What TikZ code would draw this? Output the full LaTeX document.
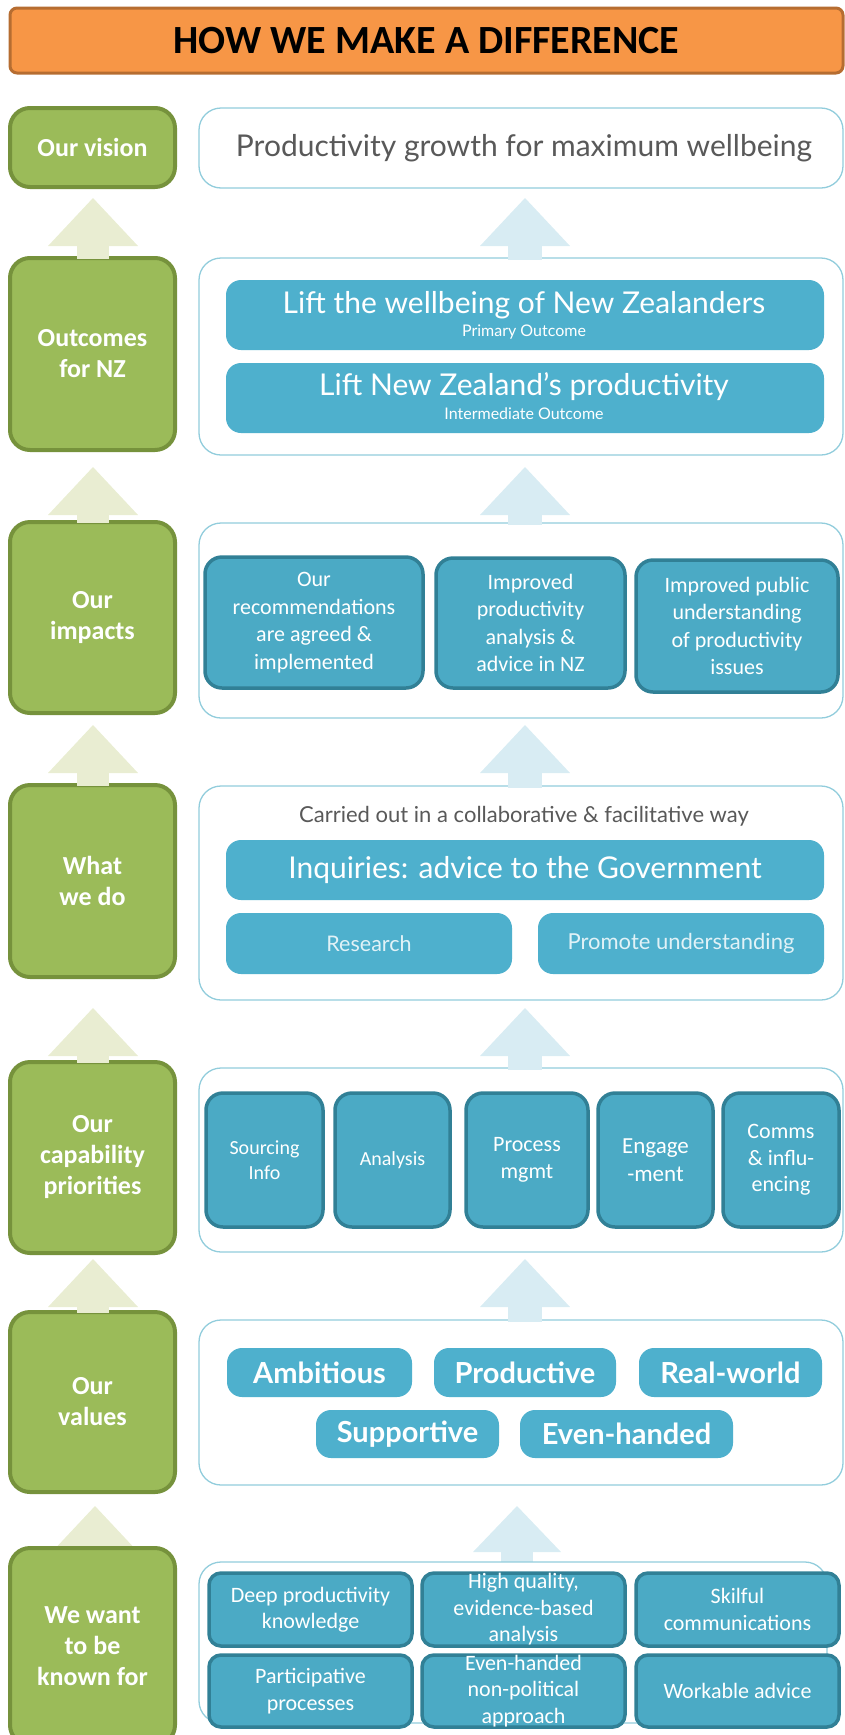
\documentclass[tikz,border=0pt]{standalone}
\usepackage{fontspec}
\setmainfont{Carlito}
\newfontfamily\av{Lato}
\usetikzlibrary{calc}
\definecolor{titleF}{RGB}{247,150,70}
\definecolor{titleB}{RGB}{182,109,49}
\definecolor{gF}{RGB}{155,187,89}
\definecolor{gB}{RGB}{118,146,60}
\definecolor{pB}{RGB}{146,205,220}
\definecolor{bF}{RGB}{78,176,205}
\definecolor{bF2}{RGB}{75,170,197}
\definecolor{bB}{RGB}{49,128,150}
\definecolor{gA}{RGB}{233,237,210}
\definecolor{bA}{RGB}{216,236,243}
\definecolor{txtG}{RGB}{89,89,89}
\definecolor{paleT}{RGB}{225,242,247}
\newcommand\rbox[7]{%
  \pgfmathsetmacro\rbcx{(#3+#5)/2}%
  \pgfmathsetmacro\rbcy{(#4+#6)/2}%
  \pgfmathsetmacro\rbw{#5-#3}%
  \pgfmathsetmacro\rbh{#6-#4}%
  \node[#2, minimum width=\rbw pt, minimum height=\rbh pt] (#1) at (\rbcx,\rbcy) {#7};}
\newcommand\blkarrow[5]{%
  \fill[#3] (#1) -- ++(#4,48) -- ++({-2*#4},0) -- cycle;
  \fill[#3] ($(#1)+(-#5,47)$) rectangle ($(#1 |- #2.north)+(#5,3)$);}
\begin{document}
\begin{tikzpicture}[x=1pt,y=-1pt,
  titlebox/.style={draw=titleB, line width=3pt, fill=titleF, rounded corners=7pt, inner sep=0pt, font=\fontsize{40}{44}\selectfont\bfseries},
  gbox/.style={draw=gB, line width=4pt, fill=gF, rounded corners=20pt, inner sep=0pt, text=white, align=center, font=\fontsize{26}{31}\selectfont\bfseries},
  panel/.style={draw=pB, line width=1.3pt, fill=white, rounded corners=22pt, inner sep=0pt},
  bflat/.style={fill=bF, rounded corners=15pt, inner sep=0pt, text=white, align=center},
  bdark/.style={fill=bF2, draw=bB, line width=3.5pt, rounded corners=17pt, inner sep=0pt, text=white, align=center, font=\fontsize{22}{27.5}\selectfont},
  kbox/.style={bdark, rounded corners=12pt, font=\fontsize{22}{26.5}\selectfont},
  ptext/.style={inner sep=0pt, text=txtG, font=\av},
  vbox/.style={bflat, font=\av\bfseries\fontsize{29}{32}\selectfont},
  otext/.style={text=white, inner sep=0pt, font=\av\fontsize{30}{33}\selectfont},
  osub/.style={text=white, inner sep=0pt, font=\av\fontsize{16}{18}\selectfont}
]
\useasboundingbox (0,0) rectangle (845,1735);

% tips of the block arrows
\coordinate (ga1) at (93,198);
\coordinate (ga2) at (93,467);
\coordinate (ga3) at (93,725);
\coordinate (ga4) at (93,1008);
\coordinate (ga5) at (93,1259);
\coordinate (ga6) at (95,1506);
\coordinate (ba1) at (525,198);
\coordinate (ba2) at (525,467);
\coordinate (ba3) at (525,725);
\coordinate (ba4) at (525,1008);
\coordinate (ba5) at (525,1259);
\coordinate (ba6) at (517,1506);

% title
\rbox{title}{titlebox}{10}{8}{843}{73}{HOW WE MAKE A DIFFERENCE}

% green labels
\rbox{g1}{gbox}{10}{108}{175}{187}{Our vision}
\rbox{g2}{gbox}{10}{258}{175}{450}{Outcomes\\for NZ}
\rbox{g3}{gbox}{10}{522}{175}{713}{Our\\impacts}
\rbox{g4}{gbox}{10}{785}{175}{977}{What\\we do}
\rbox{g5}{gbox}{10}{1062}{175}{1253}{Our\\capability\\priorities}
\rbox{g6}{gbox}{10}{1312}{175}{1492}{Our\\values}

% panels
\rbox{p1}{panel}{199}{108}{843}{188}{}
\rbox{p2}{panel}{199}{258}{843}{455}{}
\rbox{p3}{panel}{199}{523}{843}{718}{}
\rbox{p4}{panel}{199}{786}{843}{1000}{}
\rbox{p5}{panel}{199}{1068}{843}{1252}{}
\rbox{p6}{panel}{199}{1320}{843}{1485}{}

% arrows
\blkarrow{ga1}{g2}{gA}{45}{16}
\blkarrow{ga2}{g3}{gA}{45}{16}
\blkarrow{ga3}{g4}{gA}{45}{16}
\blkarrow{ga4}{g5}{gA}{45}{16}
\blkarrow{ga5}{g6}{gA}{45}{16}
\blkarrow{ba1}{p2}{bA}{45}{17}
\blkarrow{ba2}{p3}{bA}{45}{17}
\blkarrow{ba3}{p4}{bA}{45}{17}
\blkarrow{ba4}{p5}{bA}{45}{17}
\blkarrow{ba5}{p6}{bA}{45}{17}

% last row (drawn after its arrows)
\fill[gA] (ga6) -- ++(45,48) -- ++(-90,0) -- cycle;
\fill[bA] (ba6) -- ++(44,46) -- ++(-88,0) -- cycle;
\coordinate (bs6) at (517,1566);
\fill[bA] ($(ba6)+(-16,45)$) rectangle ($(bs6)+(16,0)$);
\rbox{g7}{gbox}{10}{1548}{175}{1745}{We want\\to be\\known for}
\rbox{p7}{panel}{199}{1562}{827}{1723}{}

% vision
\node[ptext, font=\av\fontsize{30}{34}\selectfont] (vis) at (524,148) {Productivity growth for maximum wellbeing};

% outcomes
\rbox{o1}{bflat}{226}{280}{824}{350}{}
\rbox{o2}{bflat}{226}{363}{824}{433}{}
\node[otext] (o1t) at (524,305) {Lift the wellbeing of New Zealanders};
\node[osub] (o1s) at (524,332) {Primary Outcome};
\node[otext] (o2t) at (524,387) {Lift New Zealand’s productivity};
\node[osub] (o2s) at (524,414) {Intermediate Outcome};

% impacts
\rbox{i1}{bdark}{205}{557}{423}{688}{Our\\recommendations\\are agreed \&\\implemented}
\rbox{i2}{bdark}{436}{558}{625}{688}{Improved\\productivity\\analysis \&\\advice in NZ}
\rbox{i3}{bdark}{636}{560}{838}{692}{Improved public\\understanding\\of productivity\\issues}

% what we do
\node[ptext, font=\av\fontsize{22}{25}\selectfont] (carried) at (524,816) {Carried out in a collaborative \& facilitative way};
\rbox{w1}{bflat, font=\av\fontsize{30}{33}\selectfont}{226}{840}{824}{900}{Inquiries: advice to the Government}
\rbox{w2}{bflat, text=paleT, font=\av\fontsize{21.5}{24}\selectfont}{226}{913}{512}{974}{Research}
\rbox{w3}{bflat, text=paleT, font=\av\fontsize{22}{24}\selectfont}{538}{913}{824}{974}{Promote understanding}

% capability
\rbox{c1}{bdark, font=\fontsize{20}{25}\selectfont}{206}{1093}{323}{1227}{Sourcing\\Info}
\rbox{c2}{bdark, font=\fontsize{20}{25}\selectfont}{335}{1093}{450}{1227}{Analysis}
\rbox{c3}{bdark}{466}{1093}{588}{1227}{Process\\mgmt}
\rbox{c4}{bdark, font=\fontsize{23}{28}\selectfont}{598}{1093}{713}{1227}{Engage\\-ment}
\rbox{c5}{bdark, font=\fontsize{22}{26.5}\selectfont}{723}{1093}{839}{1227}{Comms\\\& influ-\\encing}

% values
\rbox{v1}{vbox}{227}{1348}{412}{1397}{Ambitious}
\rbox{v2}{vbox}{434}{1348}{616}{1397}{Productive}
\rbox{v3}{vbox}{639}{1348}{822}{1397}{Real-world}
\rbox{v4}{vbox}{316}{1410}{499}{1458}{Supportive}
\rbox{v5}{vbox}{520}{1410}{733}{1458}{Even-handed}

% known for
\rbox{k1}{kbox}{209}{1573}{412}{1646}{Deep productivity\\knowledge}
\rbox{k2}{kbox}{422}{1573}{625}{1646}{High quality,\\evidence-based\\analysis}
\rbox{k3}{kbox}{636}{1573}{839}{1646}{Skilful\\communications}
\rbox{k4}{kbox}{209}{1655}{412}{1727}{Participative\\processes}
\rbox{k5}{kbox}{422}{1655}{625}{1727}{Even-handed\\non-political\\approach}
\rbox{k6}{kbox}{636}{1655}{839}{1727}{Workable advice}
\end{tikzpicture}
\end{document}
